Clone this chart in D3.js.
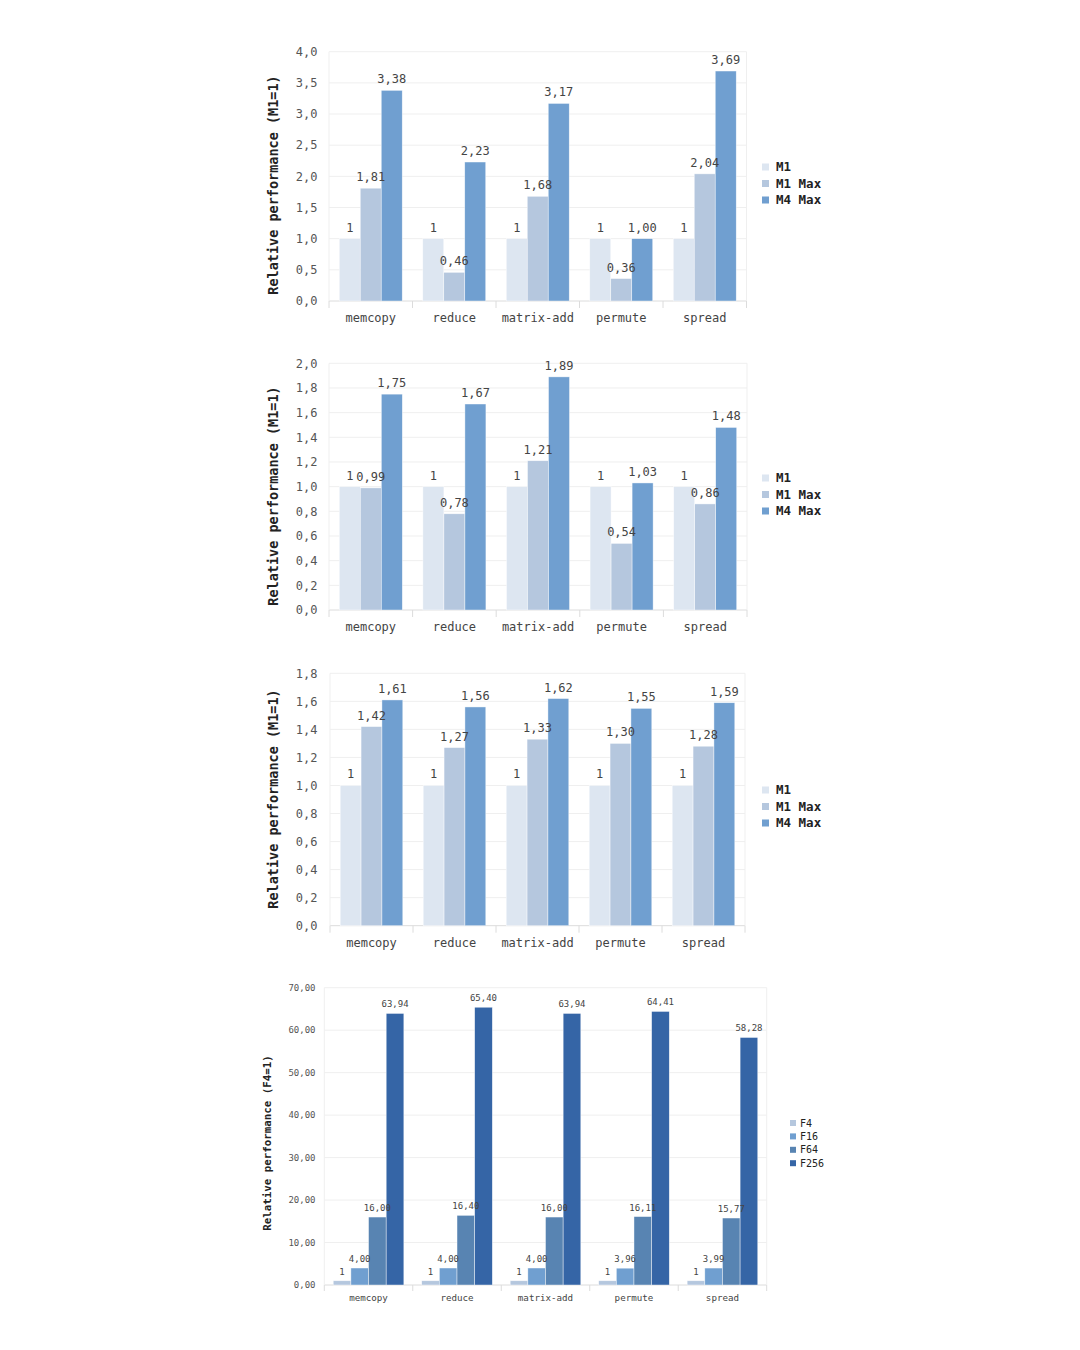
<!DOCTYPE html>
<html><head><meta charset="utf-8">
<script src="https://cdn.jsdelivr.net/npm/d3@7"></script>
<style>html,body{margin:0;padding:0;background:#fff;} svg{display:block;}</style>
</head><body>
<svg id="c" width="1080" height="1350"></svg>
<script>
const categories = ["memcopy","reduce","matrix-add","permute","spread"];
const seriesM = ["M1","M1 Max","M4 Max"];
const seriesF = ["F4","F16","F64","F256"];

const c1_M1    = [1,1,1,1,1];
const c1_M1Max = [1.81,0.46,1.68,0.36,2.04];
const c1_M4Max = [3.38,2.23,3.17,1.00,3.69];

const c2_M1    = [1,1,1,1,1];
const c2_M1Max = [0.99,0.78,1.21,0.54,0.86];
const c2_M4Max = [1.75,1.67,1.89,1.03,1.48];

const c3_M1    = [1,1,1,1,1];
const c3_M1Max = [1.42,1.27,1.33,1.30,1.28];
const c3_M4Max = [1.61,1.56,1.62,1.55,1.59];

const c4_F4   = [1,1,1,1,1];
const c4_F16  = [4.00,4.00,4.00,3.96,3.99];
const c4_F64  = [16.00,16.40,16.00,16.11,15.77];
const c4_F256 = [63.94,65.40,63.94,64.41,58.28];

const ticks1 = [0,0.5,1,1.5,2,2.5,3,3.5,4];
const ticks2 = [0,0.2,0.4,0.6,0.8,1,1.2,1.4,1.6,1.8,2];
const ticks3 = [0,0.2,0.4,0.6,0.8,1,1.2,1.4,1.6,1.8];
const ticks4 = [0,10,20,30,40,50,60,70];

const colorsM = ["#dde6f1","#b5c7de","#709fd0"];
const colorsF = ["#b5c7de","#709fd0","#5884b2","#3565a6"];

const FONT = "'DejaVu Sans Mono', monospace";
const svg = d3.select("#c");

function fmt(v, dec){ return v.toFixed(dec).replace(".", ","); }

function drawChart(cfg){
  const g = svg.append("g");
  const y = d3.scaleLinear().domain([0, cfg.max]).range([cfg.bottom, cfg.top]);
  const x0 = d3.scaleBand().domain(categories).range([cfg.left, cfg.right]);
  const bw = x0.bandwidth();
  const pad = bw * cfg.groupPad;
  const x1 = d3.scaleBand().domain(cfg.series).range([pad, bw - pad]);

  // grid
  g.selectAll(".grid").data(cfg.ticks).enter().append("line")
    .attr("x1", cfg.left).attr("x2", cfg.right)
    .attr("y1", d => y(d)).attr("y2", d => y(d))
    .attr("stroke", d => d === 0 ? "#dcdcdc" : "#efefef").attr("stroke-width", 1);
  // side borders
  [cfg.left, cfg.right].forEach(xx => {
    g.append("line").attr("x1", xx).attr("x2", xx).attr("y1", y(cfg.max)).attr("y2", cfg.bottom)
      .attr("stroke", "#efefef");
  });
  // bottom ticks at band edges
  const edges = categories.map(cn => x0(cn)).concat([cfg.right]);
  g.selectAll(".tk").data(edges).enter().append("line")
    .attr("x1", d => d).attr("x2", d => d)
    .attr("y1", cfg.bottom).attr("y2", cfg.bottom + cfg.tickLen)
    .attr("stroke", "#dcdcdc");

  // y tick labels
  g.selectAll(".yl").data(cfg.ticks).enter().append("text")
    .attr("x", cfg.tickX).attr("y", d => y(d)).attr("dy", "0.35em")
    .attr("text-anchor", "end").attr("font-family", FONT)
    .attr("font-size", cfg.tickFs).attr("fill", "#555")
    .text(d => fmt(d, cfg.tickDec));

  // category labels
  g.selectAll(".xl").data(categories).enter().append("text")
    .attr("x", d => x0(d) + bw / 2).attr("y", cfg.catY).attr("dy", "0.35em")
    .attr("text-anchor", "middle").attr("font-family", FONT)
    .attr("font-size", cfg.catFs).attr("fill", "#444")
    .text(d => d);

  // bars
  cfg.series.forEach((s, si) => {
    const vals = cfg.values[si];
    g.selectAll(".b" + si).data(vals).enter().append("rect")
      .attr("x", (d, i) => x0(categories[i]) + x1(s))
      .attr("y", d => y(d))
      .attr("width", x1.bandwidth())
      .attr("height", d => cfg.bottom - y(d))
      .attr("fill", cfg.colors[si])
      .attr("stroke", "#ffffff").attr("stroke-width", 0.6).attr("stroke-opacity", 0.7);
  });
  // value labels
  cfg.series.forEach((s, si) => {
    const vals = cfg.values[si];
    g.selectAll(".v" + si).data(vals).enter().append("text")
      .attr("x", (d, i) => x0(categories[i]) + x1(s) + x1.bandwidth() / 2)
      .attr("y", d => y(d) - cfg.labOff)
      .attr("text-anchor", "middle").attr("font-family", FONT)
      .attr("font-size", cfg.valFs).attr("fill", "#444")
      .text(d => si === 0 ? String(d) : fmt(d, 2));
  });

  // axis title
  g.append("text")
    .attr("transform", `translate(${cfg.titleX},${cfg.titleY}) rotate(-90)`)
    .attr("text-anchor", "middle").attr("dy", "0.35em")
    .attr("font-family", FONT).attr("font-weight", "bold")
    .attr("font-size", cfg.titleFs).attr("fill", "#222")
    .text(cfg.title);

  // legend
  cfg.series.forEach((s, si) => {
    const yy = cfg.legY + si * cfg.legStep;
    g.append("rect").attr("x", cfg.legX).attr("y", yy - cfg.legSq / 2)
      .attr("width", cfg.legSq).attr("height", cfg.legSq).attr("fill", cfg.colors[si]);
    g.append("text").attr("x", cfg.legTX).attr("y", yy).attr("dy", "0.35em")
      .attr("font-family", FONT).attr("font-weight", cfg.legW)
      .attr("font-size", cfg.legFs).attr("fill", "#222").text(s);
  });
}

const baseM = {series: seriesM, colors: colorsM, groupPad: 0.123, tickLen: 7,
  tickDec: 1, tickFs: 12, catFs: 12, valFs: 12, labOff: 7, titleFs: 13.5,
  legSq: 7, legFs: 12.5, legW: "bold", legStep: 16.5, legX: 762, legTX: 776,
  title: "Relative performance (M1=1)", titleX: 273.5};

drawChart(Object.assign({}, baseM, {max: 4, ticks: ticks1, values: [c1_M1, c1_M1Max, c1_M4Max],
  left: 329, right: 746.5, top: 51.7, bottom: 301, tickX: 317.5, catY: 318, titleY: 185, legY: 167}));
drawChart(Object.assign({}, baseM, {max: 2, ticks: ticks2, values: [c2_M1, c2_M1Max, c2_M4Max],
  left: 329, right: 747, top: 363.3, bottom: 610, tickX: 317.5, catY: 627, titleY: 496, legY: 478}));
drawChart(Object.assign({}, baseM, {max: 1.8, ticks: ticks3, values: [c3_M1, c3_M1Max, c3_M4Max],
  left: 330, right: 745, top: 673.3, bottom: 925.7, tickX: 317.5, catY: 943, titleY: 799, legY: 790}));
drawChart({series: seriesF, colors: colorsF, groupPad: 0.101, tickLen: 6,
  tickDec: 2, tickFs: 9, catFs: 9.2, valFs: 9, labOff: 6, titleFs: 10.8,
  legSq: 6, legFs: 10, legW: "normal", legStep: 13.4, legX: 790, legTX: 800,
  title: "Relative performance (F4=1)", titleX: 267,
  max: 70, ticks: ticks4, values: [c4_F4, c4_F16, c4_F64, c4_F256],
  left: 324.3, right: 766.7, top: 987.7, bottom: 1285, tickX: 315.5, catY: 1298, titleY: 1143, legY: 1123});
</script>
</body></html>
